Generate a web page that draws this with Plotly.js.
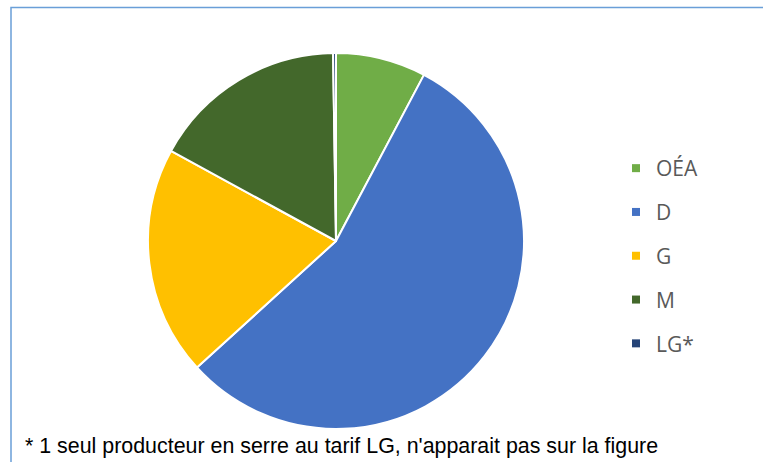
<!DOCTYPE html>
<html>
<head>
<meta charset="utf-8">
<script src="https://cdn.plot.ly/plotly-3.0.1.min.js"></script>
<style>html,body{margin:0;padding:0;background:#fff;}#chart{width:763px;height:462px;}</style>
</head>
<body>
<div id="chart"></div>
<script>
const labels = ["OÉA", "D", "G", "M", "LG*"];
const values = [7.75, 55.5, 19.7, 16.8, 0.25];
const colors = ["#70AD47", "#4472C4", "#FFC000", "#43682B", "#264478"];
const footnote = "* 1 seul producteur en serre au tarif LG, n'apparait pas sur la figure";

const W = 763, H = 462;
const cx = 336, cy = 241, r = 188;

const traces = [{
  type: "pie",
  labels: labels,
  values: values,
  sort: false,
  direction: "clockwise",
  rotation: 0,
  textinfo: "none",
  showlegend: false,
  marker: {colors: colors, line: {color: "#ffffff", width: 2}},
  domain: {x: [(cx - r) / W, (cx + r) / W], y: [(H - cy - r) / H, (H - cy + r) / H]}
}];
labels.forEach((lab, i) => {
  traces.push({
    type: "scatter", mode: "markers", x: [null], y: [null],
    name: lab, legendgroup: "g" + i, showlegend: true,
    marker: {symbol: "square", size: 8, color: colors[i]},
    hoverinfo: "skip"
  });
});

const layout = {
  width: W, height: H,
  margin: {l: 0, r: 0, t: 0, b: 0},
  paper_bgcolor: "#ffffff", plot_bgcolor: "rgba(0,0,0,0)",
  xaxis: {visible: false}, yaxis: {visible: false},
  showlegend: true,
  legend: {
    x: 616 / W, y: 1 - 148 / H, xanchor: "left", yanchor: "top",
    tracegroupgap: 13.5,
    font: {family: "Open Sans, sans-serif", size: 21, color: "#595959"},
    bgcolor: "rgba(0,0,0,0)"
  },
  shapes: [{
    type: "rect", xref: "paper", yref: "paper",
    x0: 11 / W, x1: 1.02, y0: -0.02, y1: 1 - 7.5 / H,
    line: {color: "#6A9FD8", width: 1.5}, fillcolor: "rgba(0,0,0,0)"
  }],
  annotations: [{
    xref: "paper", yref: "paper", x: 23 / W, y: 1 - 446 / H,
    xanchor: "left", yanchor: "middle", showarrow: false,
    text: footnote,
    font: {family: "Liberation Sans, Arial, sans-serif", size: 21.4, color: "#000000"}
  }]
};

Plotly.newPlot("chart", traces, layout, {displayModeBar: false, staticPlot: true});
</script>
</body>
</html>
